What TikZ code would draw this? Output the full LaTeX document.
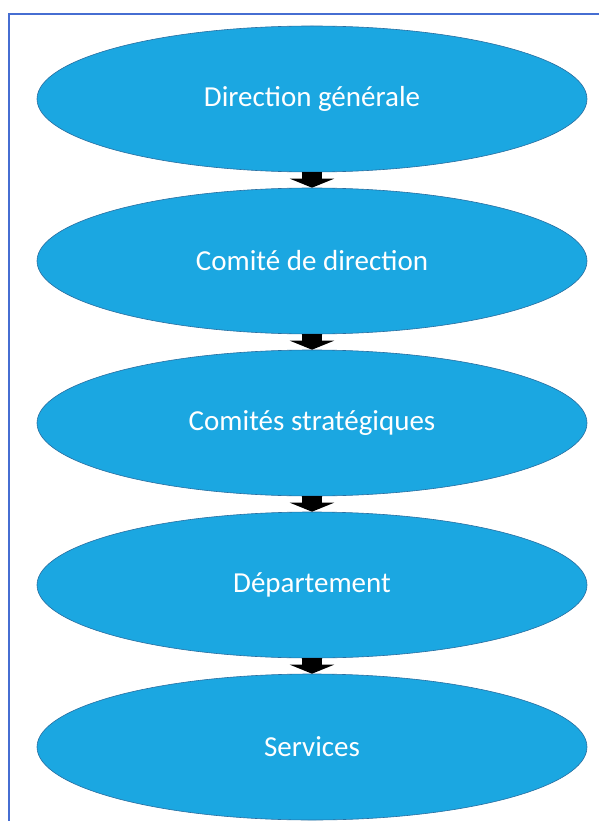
\documentclass[tikz,border=0pt]{standalone}
\usepackage{fontspec}
\setmainfont{Carlito}
\usetikzlibrary{shapes.geometric,arrows.meta}

\definecolor{bleuorg}{RGB}{27,167,225}
\definecolor{bordorg}{RGB}{40,110,160}
\definecolor{cadrebleu}{RGB}{70,110,210}

\tikzset{
  org/.style={ellipse, fill=bleuorg, draw=bordorg, line width=0.6pt,
    minimum width=550pt, minimum height=146pt, inner sep=0pt,
    text=white, font=\fontsize{29}{34}\selectfont},
  fleche/.style={line width=20pt, draw=black,
    -{Triangle[width=44pt,length=9pt]}},
  cadre/.style={draw=cadrebleu, line width=2pt}
}

\begin{document}
\begin{tikzpicture}[x=1pt,y=-1pt]
  \useasboundingbox (0,0) rectangle (599,821);
  % frame
  \draw[cadre] (9,821) -- (9,14) -- (599,14);

  % Ellipses (manual placement)
  \node[org] (dg)  at (312,99)  {Direction générale};
  \node[org] (cd)  at (312,261) {Comité de direction};
  \node[org] (cs)  at (312,423) {Comités stratégiques};
  \node[org] (dep) at (312,585) {Département};
  \node[org] (srv) at (312,747) {Services};

  % arrows
  \draw[fleche] (dg.south)  -- (cd.north);
  \draw[fleche] (cd.south)  -- (cs.north);
  \draw[fleche] (cs.south)  -- (dep.north);
  \draw[fleche] (dep.south) -- (srv.north);
\end{tikzpicture}
\end{document}
